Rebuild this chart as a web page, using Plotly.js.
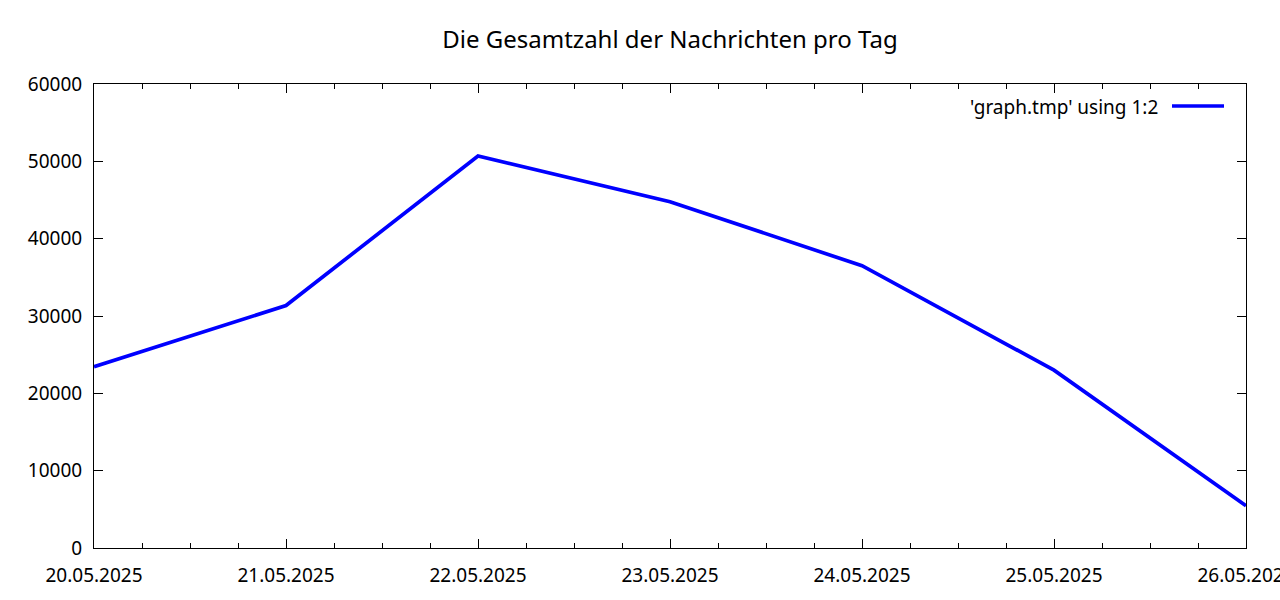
<!DOCTYPE html>
<html>
<head>
<meta charset="utf-8">
<script src="https://cdn.plot.ly/plotly-3.0.1.min.js"></script>
<style>html,body{margin:0;padding:0;background:#fff;}#chart{width:1280px;height:600px;}</style>
</head>
<body>
<div id="chart"></div>
<script>
const dates = ["2025-05-20", "2025-05-21", "2025-05-22", "2025-05-23", "2025-05-24", "2025-05-25", "2025-05-26"];
const messages = [23450, 31350, 50700, 44780, 36500, 23000, 5470];
const yTicks = [0, 10000, 20000, 30000, 40000, 50000, 60000];
const titleText = "Die Gesamtzahl der Nachrichten pro Tag";
const seriesName = "'graph.tmp' using 1:2";

const FONT = "Noto Sans, DejaVu Sans, sans-serif";
const trace = {
  x: dates, y: messages, type: "scatter", mode: "lines",
  name: seriesName,
  line: {color: "#0000ff", width: 3.7},
  showlegend: false, hoverinfo: "skip"
};
const layout = {
  width: 1280, height: 600,
  margin: {l: 94, r: 34, t: 84, b: 52},
  paper_bgcolor: "#fff", plot_bgcolor: "#fff",
  font: {family: FONT, size: 19, color: "#000"},
  title: {text: titleText, x: 0.5, xref: "paper", y: 1 - 40/600, yanchor: "middle", font: {family: FONT, size: 24, color: "#000"}},
  xaxis: {
    type: "date", range: [dates[0], dates[dates.length-1]],
    tickvals: dates, tickformat: "%d.%m.%Y",
    ticks: "inside", ticklen: 9, tickwidth: 1, tickcolor: "#000",
    showline: true, linecolor: "#000", linewidth: 1, mirror: "allticks",
    showgrid: false, zeroline: false,
    ticklabelstandoff: 10, ticklabeloverflow: "allow",
    minor: {dtick: 6*3600*1000, ticks: "inside", ticklen: 5, tickwidth: 1, tickcolor: "#000", showgrid: false},
    tickfont: {family: FONT, size: 19, color: "#000"}
  },
  yaxis: {
    range: [0, 60000], tickvals: yTicks, tickformat: "d",
    ticks: "inside", ticklen: 9, tickwidth: 1, tickcolor: "#000",
    showline: true, linecolor: "#000", linewidth: 1, mirror: "allticks",
    showgrid: false, zeroline: false,
    ticklabelstandoff: 7,
    tickfont: {family: FONT, size: 19, color: "#000"}
  },
  annotations: [{
    text: seriesName, xref: "paper", yref: "paper",
    x: (1160-94)/1152, y: (548-107)/464, xanchor: "right", yanchor: "middle",
    showarrow: false, font: {family: FONT, size: 19, color: "#000"}
  }],
  shapes: [{
    type: "line", xref: "paper", yref: "paper",
    x0: (1172-94)/1152, x1: (1224-94)/1152, y0: (548-106)/464, y1: (548-106)/464,
    line: {color: "#0000ff", width: 3.7}
  }]
};
Plotly.newPlot("chart", [trace], layout, {displayModeBar: false, staticPlot: true});
</script>
</body>
</html>
